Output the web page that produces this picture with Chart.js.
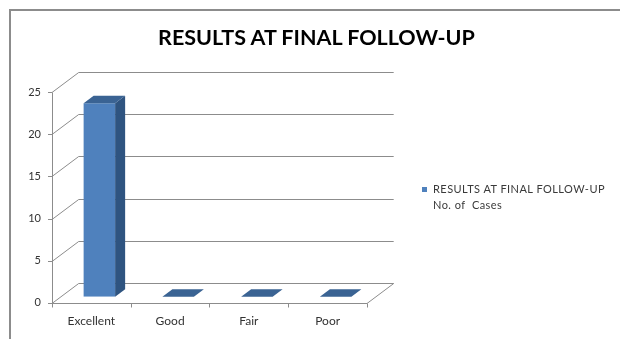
<!DOCTYPE html>
<html>
<head>
<meta charset="utf-8">
<title>Results at final follow-up</title>
<script src="https://cdn.jsdelivr.net/npm/chart.js@4.4.1/dist/chart.umd.min.js"></script>
<style>
  html, body { margin: 0; padding: 0; background: #fff; overflow: hidden; }
  #wrap { position: relative; width: 620px; height: 339px; overflow: hidden; }
  canvas { position: absolute; left: 0; top: 0; }
  #title { position: absolute; left: 0; width: 607px; padding-left: 13px; top: 24px; line-height: 22px;
           text-align: center; font: bold 21.5px Lato, sans-serif; color: #000; white-space: nowrap; }
  #legend { position: absolute; left: 422px; top: 181px; font: 11px Lato, sans-serif; letter-spacing: 0.45px;
            color: #3a3a3a; line-height: 15.5px; white-space: pre; }
  #legend .sw { position: absolute; left: 0; top: 6px; width: 5px; height: 5px; background: #4f81bd; }
  #legend .ln { padding-left: 11px; }
</style>
</head>
<body>
<div id="wrap">
  <canvas id="myChart" width="620" height="339"></canvas>
  <div id="title">RESULTS AT FINAL FOLLOW-UP</div>
  <div id="legend"><span class="sw"></span><div class="ln">RESULTS AT FINAL FOLLOW-UP</div><div class="ln">No. of  Cases</div></div>
</div>
<script>
const categories = ['Excellent', 'Good', 'Fair', 'Poor'];
const cases = [23, 0, 0, 0];
const yTicks = [0, 5, 10, 15, 20, 25];

// fake 3d: depth vector of the box, and where the bars sit inside it
const depth = { dx: 26.7, dy: -20 };
const barFront = 0.3;
const barBack = 0.675;

function frontX(x) { return x - barFront * depth.dx; }
function frontY(y) { return y - barFront * depth.dy; }

const box3d = {
    id: 'box3d',
    beforeDraw(chart) {
        // cropped chart frame, only top and left edges show
        const ctx = chart.ctx;
        ctx.save();
        ctx.strokeStyle = '#8c8c8c';
        ctx.lineWidth = 2;
        ctx.beginPath();
        ctx.moveTo(10, chart.height);
        ctx.lineTo(10, 10);
        ctx.lineTo(chart.width, 10);
        ctx.stroke();
        ctx.restore();
    },
    beforeDatasetsDraw(chart) {
        const ctx = chart.ctx;
        const xs = chart.scales.x;
        const ys = chart.scales.y;
        const left = frontX(xs.left);
        const right = frontX(xs.right);
        const bx = depth.dx, by = depth.dy;

        ctx.save();
        ctx.strokeStyle = '#8c8c8c';
        ctx.lineWidth = 1;

        // back wall grid + side wall diagonals
        yTicks.forEach((v) => {
            const y = Math.round(frontY(ys.getPixelForValue(v))) + 0.5;
            ctx.beginPath();
            ctx.moveTo(left, y);
            ctx.lineTo(left + bx, y + by);
            ctx.lineTo(right + bx, y + by);
            ctx.stroke();
            // tick
            ctx.beginPath();
            ctx.moveTo(left - 4, y);
            ctx.lineTo(left, y);
            ctx.stroke();
        });

        // front axis
        const y0 = Math.round(frontY(ys.getPixelForValue(0))) + 0.5;
        const yTop = Math.round(frontY(ys.getPixelForValue(yTicks[yTicks.length - 1]))) + 0.5;
        ctx.beginPath();
        ctx.moveTo(Math.round(left) + 0.5, yTop);
        ctx.lineTo(Math.round(left) + 0.5, y0 + 3);
        ctx.stroke();

        // floor front + right edge
        ctx.beginPath();
        ctx.moveTo(left, y0);
        ctx.lineTo(right, y0);
        ctx.lineTo(right + bx, y0 + by);
        ctx.stroke();

        // category ticks
        const step = (right - left) / categories.length;
        for (let i = 0; i <= categories.length; i++) {
            const x = Math.round(left + i * step) + 0.5;
            ctx.beginPath();
            ctx.moveTo(x, y0);
            ctx.lineTo(x, y0 + 4);
            ctx.stroke();
        }

        // labels
        ctx.fillStyle = '#333';
        ctx.font = '11px Lato, sans-serif';
        ctx.textAlign = 'right';
        ctx.textBaseline = 'middle';
        yTicks.forEach((v) => {
            ctx.fillText(String(v), left - 11, frontY(ys.getPixelForValue(v)));
        });
        ctx.font = '12px Lato, sans-serif';
        ctx.textAlign = 'center';
        categories.forEach((c, i) => {
            ctx.fillText(c, frontX(xs.getPixelForValue(i)), y0 + 18);
        });
        ctx.restore();
    },
    afterDatasetsDraw(chart) {
        const ctx = chart.ctx;
        const meta = chart.getDatasetMeta(0);
        const ddx = (barBack - barFront) * depth.dx;
        const ddy = (barBack - barFront) * depth.dy;
        ctx.save();
        meta.data.forEach((bar) => {
            const p = bar.getProps(['x', 'y', 'base', 'width'], true);
            const l = p.x - p.width / 2, r = p.x + p.width / 2;
            // side
            ctx.fillStyle = '#2f5480';
            ctx.beginPath();
            ctx.moveTo(r, p.y);
            ctx.lineTo(r + ddx, p.y + ddy);
            ctx.lineTo(r + ddx, p.base + ddy);
            ctx.lineTo(r, p.base);
            ctx.closePath();
            ctx.fill();
            // top
            ctx.fillStyle = '#3a6393';
            ctx.beginPath();
            ctx.moveTo(l, p.y);
            ctx.lineTo(r, p.y);
            ctx.lineTo(r + ddx, p.y + ddy);
            ctx.lineTo(l + ddx, p.y + ddy);
            ctx.closePath();
            ctx.fill();
        });
        ctx.restore();
    }
};

const ctx = document.getElementById('myChart').getContext('2d');
const chart = new Chart(ctx, {
    type: 'bar',
    data: {
        labels: categories,
        datasets: [{
            label: 'RESULTS AT FINAL FOLLOW-UP No. of Cases',
            data: cases,
            backgroundColor: '#4f81bd',
            borderWidth: 0,
            barPercentage: 0.4,
            categoryPercentage: 1.0
        }]
    },
    options: {
        responsive: false,
        animation: false,
        layout: {
            padding: { left: 60, right: 245, top: 86.3, bottom: 42.3 }
        },
        plugins: {
            legend: { display: false },
            tooltip: { enabled: false },
            title: { display: false }
        },
        scales: {
            x: { display: false },
            y: { display: false, min: 0, max: 25 }
        }
    },
    plugins: [box3d]
});
</script>
</body>
</html>
